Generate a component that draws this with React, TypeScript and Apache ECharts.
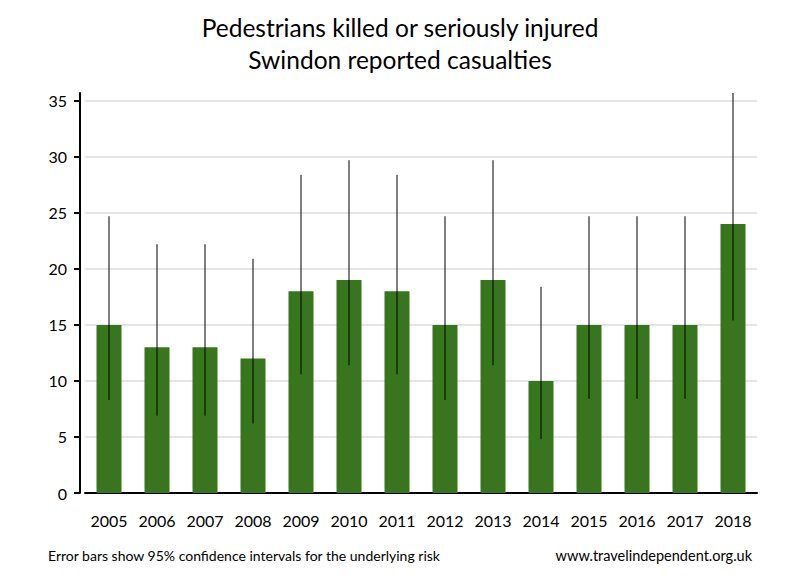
import React, { useEffect, useRef } from "react";
import * as echarts from "echarts";

const years = ["2005", "2006", "2007", "2008", "2009", "2010", "2011", "2012", "2013", "2014", "2015", "2016", "2017", "2018"];
const casualties = [15, 13, 13, 12, 18, 19, 18, 15, 19, 10, 15, 15, 15, 24];
const lowerCI = [8.3, 6.9, 6.9, 6.2, 10.6, 11.4, 10.6, 8.3, 11.4, 4.8, 8.4, 8.4, 8.4, 15.4];
const upperCI = [24.7, 22.2, 22.2, 20.9, 28.4, 29.7, 28.4, 24.7, 29.7, 18.4, 24.7, 24.7, 24.7, 35.7];
const yTicks = [0, 5, 10, 15, 20, 25, 30, 35];

const titleText = "Pedestrians killed or seriously injured\nSwindon reported casualties";
const footLeft = "Error bars show 95% confidence intervals for the underlying risk";
const footRight = "www.travelindependent.org.uk";

const FONT = "Lato";

export default function App() {
  const ref = useRef<HTMLDivElement>(null);
  useEffect(() => {
    if (!ref.current) return;
    const chart = echarts.init(ref.current, null, { renderer: "svg" });
    const errData = years.map((_, i) => [i, lowerCI[i], upperCI[i]]);
    chart.setOption({
      animation: false,
      backgroundColor: "#ffffff",
      textStyle: { fontFamily: FONT },
      title: [
        {
          text: titleText,
          left: "center",
          top: 6,
          textStyle: { fontFamily: FONT, fontSize: 24.5, fontWeight: "normal", color: "#000", lineHeight: 32 },
        },
        {
          text: footLeft,
          left: 43,
          top: 543,
          textStyle: { fontFamily: FONT, fontSize: 14, fontWeight: "normal", color: "#000" },
        },
        {
          text: footRight,
          right: 43,
          top: 543,
          textStyle: { fontFamily: FONT, fontSize: 14.5, fontWeight: "normal", color: "#000" },
        },
      ],
      grid: { left: 85, right: 43, top: 93, bottom: 87, containLabel: false },
      xAxis: {
        type: "category",
        data: years,
        axisLine: { show: true, lineStyle: { color: "#000", width: 2 } },
        axisTick: { show: false },
        axisLabel: { color: "#000", fontSize: 16, fontFamily: FONT, margin: 19, interval: 0 },
      },
      yAxis: {
        type: "value",
        min: 0,
        max: 35.7,
        offset: 5,
        axisLine: { show: true, lineStyle: { color: "#000", width: 2 } },
        axisTick: { show: true, length: 6, customValues: yTicks, lineStyle: { color: "#000", width: 2 } },
        axisLabel: { color: "#000", fontSize: 16, fontFamily: FONT, margin: 13, customValues: yTicks },
        splitLine: { show: true, lineStyle: { color: "#e6e6e6", width: 2 } },
      },
      series: [
        {
          type: "bar",
          data: casualties,
          barWidth: 25,
          itemStyle: { color: "#38761d" },
          z: 2,
        },
        {
          type: "custom",
          data: errData,
          encode: { x: 0, y: [1, 2] },
          z: 3,
          clip: false,
          renderItem: (params: any, api: any) => {
            const i = api.value(0);
            const lo = api.coord([i, api.value(1)]);
            const hi = api.coord([i, api.value(2)]);
            return {
              type: "line",
              shape: { x1: lo[0], y1: lo[1], x2: hi[0], y2: hi[1] },
              style: { stroke: "#000", lineWidth: 1 },
            };
          },
        },
      ],
    });
    return () => chart.dispose();
  }, []);
  return <div ref={ref} style={{ width: 800, height: 580, position: "absolute", left: 0, top: 0 }} />;
}
